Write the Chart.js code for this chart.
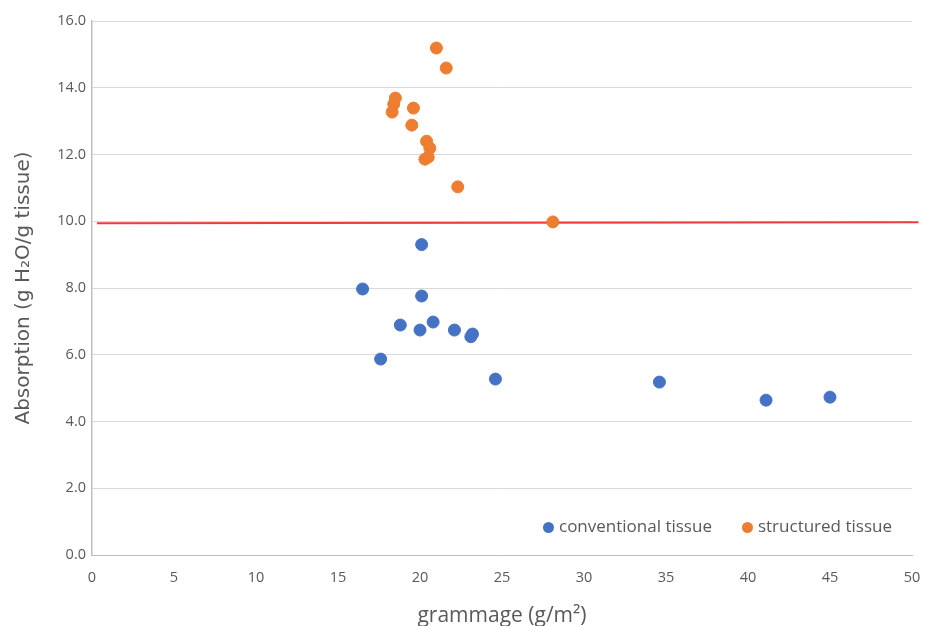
<!DOCTYPE html>
<html>
<head>
<meta charset="utf-8">
<script src="https://cdn.jsdelivr.net/npm/chart.js@4/dist/chart.umd.min.js"></script>
<style>
    html, body { margin: 0; padding: 0; background: #fff; }
    #wrap { position: relative; width: 925px; height: 626px; }
    #legend {
        position: absolute; left: 543px; top: 514px;
        font-family: 'Open Sans', sans-serif; font-size: 17px; color: #595959;
        display: flex; gap: 30px; white-space: nowrap;
    }
    #legend span.dot {
        display: inline-block; width: 11px; height: 11px; border-radius: 50%;
        margin-right: 5px; vertical-align: -1px;
    }
</style>
</head>
<body>
<div id="wrap">
    <canvas id="scatterChart" width="925" height="626"></canvas>
    <div id="legend"></div>
</div>
<script>
// --- Data
const seriesNames = ['conventional tissue', 'structured tissue'];

const conventionalX = [20.1, 16.5, 20.1, 18.8, 20.0, 20.8, 22.1, 23.2, 23.1, 17.6, 24.6, 34.6, 41.1, 45.0];
const conventionalY = [9.30, 7.97, 7.76, 6.89, 6.74, 6.98, 6.74, 6.62, 6.54, 5.87, 5.27, 5.18, 4.64, 4.73];

const structuredX = [21.0, 21.6, 18.5, 18.4, 18.3, 19.6, 19.5, 20.4, 20.6, 20.3, 20.5, 22.3, 28.1];
const structuredY = [15.19, 14.59, 13.69, 13.51, 13.27, 13.39, 12.88, 12.40, 12.19, 11.86, 11.92, 11.03, 9.98];

const thresholdX = [0.3, 50.4];
const thresholdY = [9.94, 9.97];

const toPoints = (xs, ys) => xs.map((x, i) => ({ x: x, y: ys[i] }));

const colors = ['#4472C4', '#ED7D31'];
const tickFont = { family: "'Open Sans', sans-serif", size: 14.5 };

new Chart(document.getElementById('scatterChart').getContext('2d'), {
    type: 'scatter',
    data: {
        datasets: [
            {
                label: seriesNames[0],
                data: toPoints(conventionalX, conventionalY),
                backgroundColor: colors[0],
                borderColor: colors[0],
                pointRadius: 6,
                pointHoverRadius: 6
            },
            {
                label: seriesNames[1],
                data: toPoints(structuredX, structuredY),
                backgroundColor: colors[1],
                borderColor: colors[1],
                pointRadius: 6,
                pointHoverRadius: 6
            },
            {
                label: 'threshold',
                type: 'line',
                data: toPoints(thresholdX, thresholdY),
                borderColor: '#EE3B3B',
                borderWidth: 2,
                pointRadius: 0,
                clip: false,
                order: 5
            }
        ]
    },
    options: {
        responsive: false,
        animation: false,
        layout: { padding: { top: 21, right: 13, left: 0, bottom: 0 } },
        plugins: {
            legend: { display: false },
            tooltip: { enabled: false }
        },
        scales: {
            x: {
                type: 'linear',
                min: 0,
                max: 50,
                ticks: { stepSize: 5, color: '#595959', font: tickFont, padding: 14 },
                grid: { display: false, drawTicks: false },
                border: { display: true, color: '#BFBFBF', width: 1 },
                title: {
                    display: true,
                    text: 'grammage (g/m²)',
                    color: '#595959',
                    font: { family: "'Open Sans', sans-serif", size: 21 },
                    padding: { top: 15, bottom: -3 }
                },
                afterFit: function (scale) {
                    scale.height = 71;
                    scale.paddingLeft = 0;
                    scale.paddingRight = 0;
                }
            },
            y: {
                min: 0,
                max: 16,
                ticks: {
                    stepSize: 2,
                    color: '#595959',
                    font: tickFont,
                    padding: 6,
                    callback: v => v.toFixed(1)
                },
                grid: { color: '#D9D9D9', drawTicks: false },
                border: { display: true, color: '#BFBFBF', width: 1.5 },
                title: {
                    display: true,
                    text: 'Absorption (g H₂O/g tissue)',
                    color: '#595959',
                    font: { family: "'DejaVu Sans', sans-serif", size: 20 },
                    padding: { top: 12, bottom: 4 }
                },
                afterFit: function (scale) {
                    scale.width = 92;
                    scale.paddingTop = 0;
                    scale.paddingBottom = 0;
                }
            }
        }
    }
});

// --- Legend inside the plot area (bottom right)
const legend = document.getElementById('legend');
seriesNames.forEach(function (name, i) {
    const item = document.createElement('div');
    item.innerHTML = '<span class="dot" style="background:' + colors[i] + '"></span>' + name;
    legend.appendChild(item);
});
</script>
</body>
</html>
